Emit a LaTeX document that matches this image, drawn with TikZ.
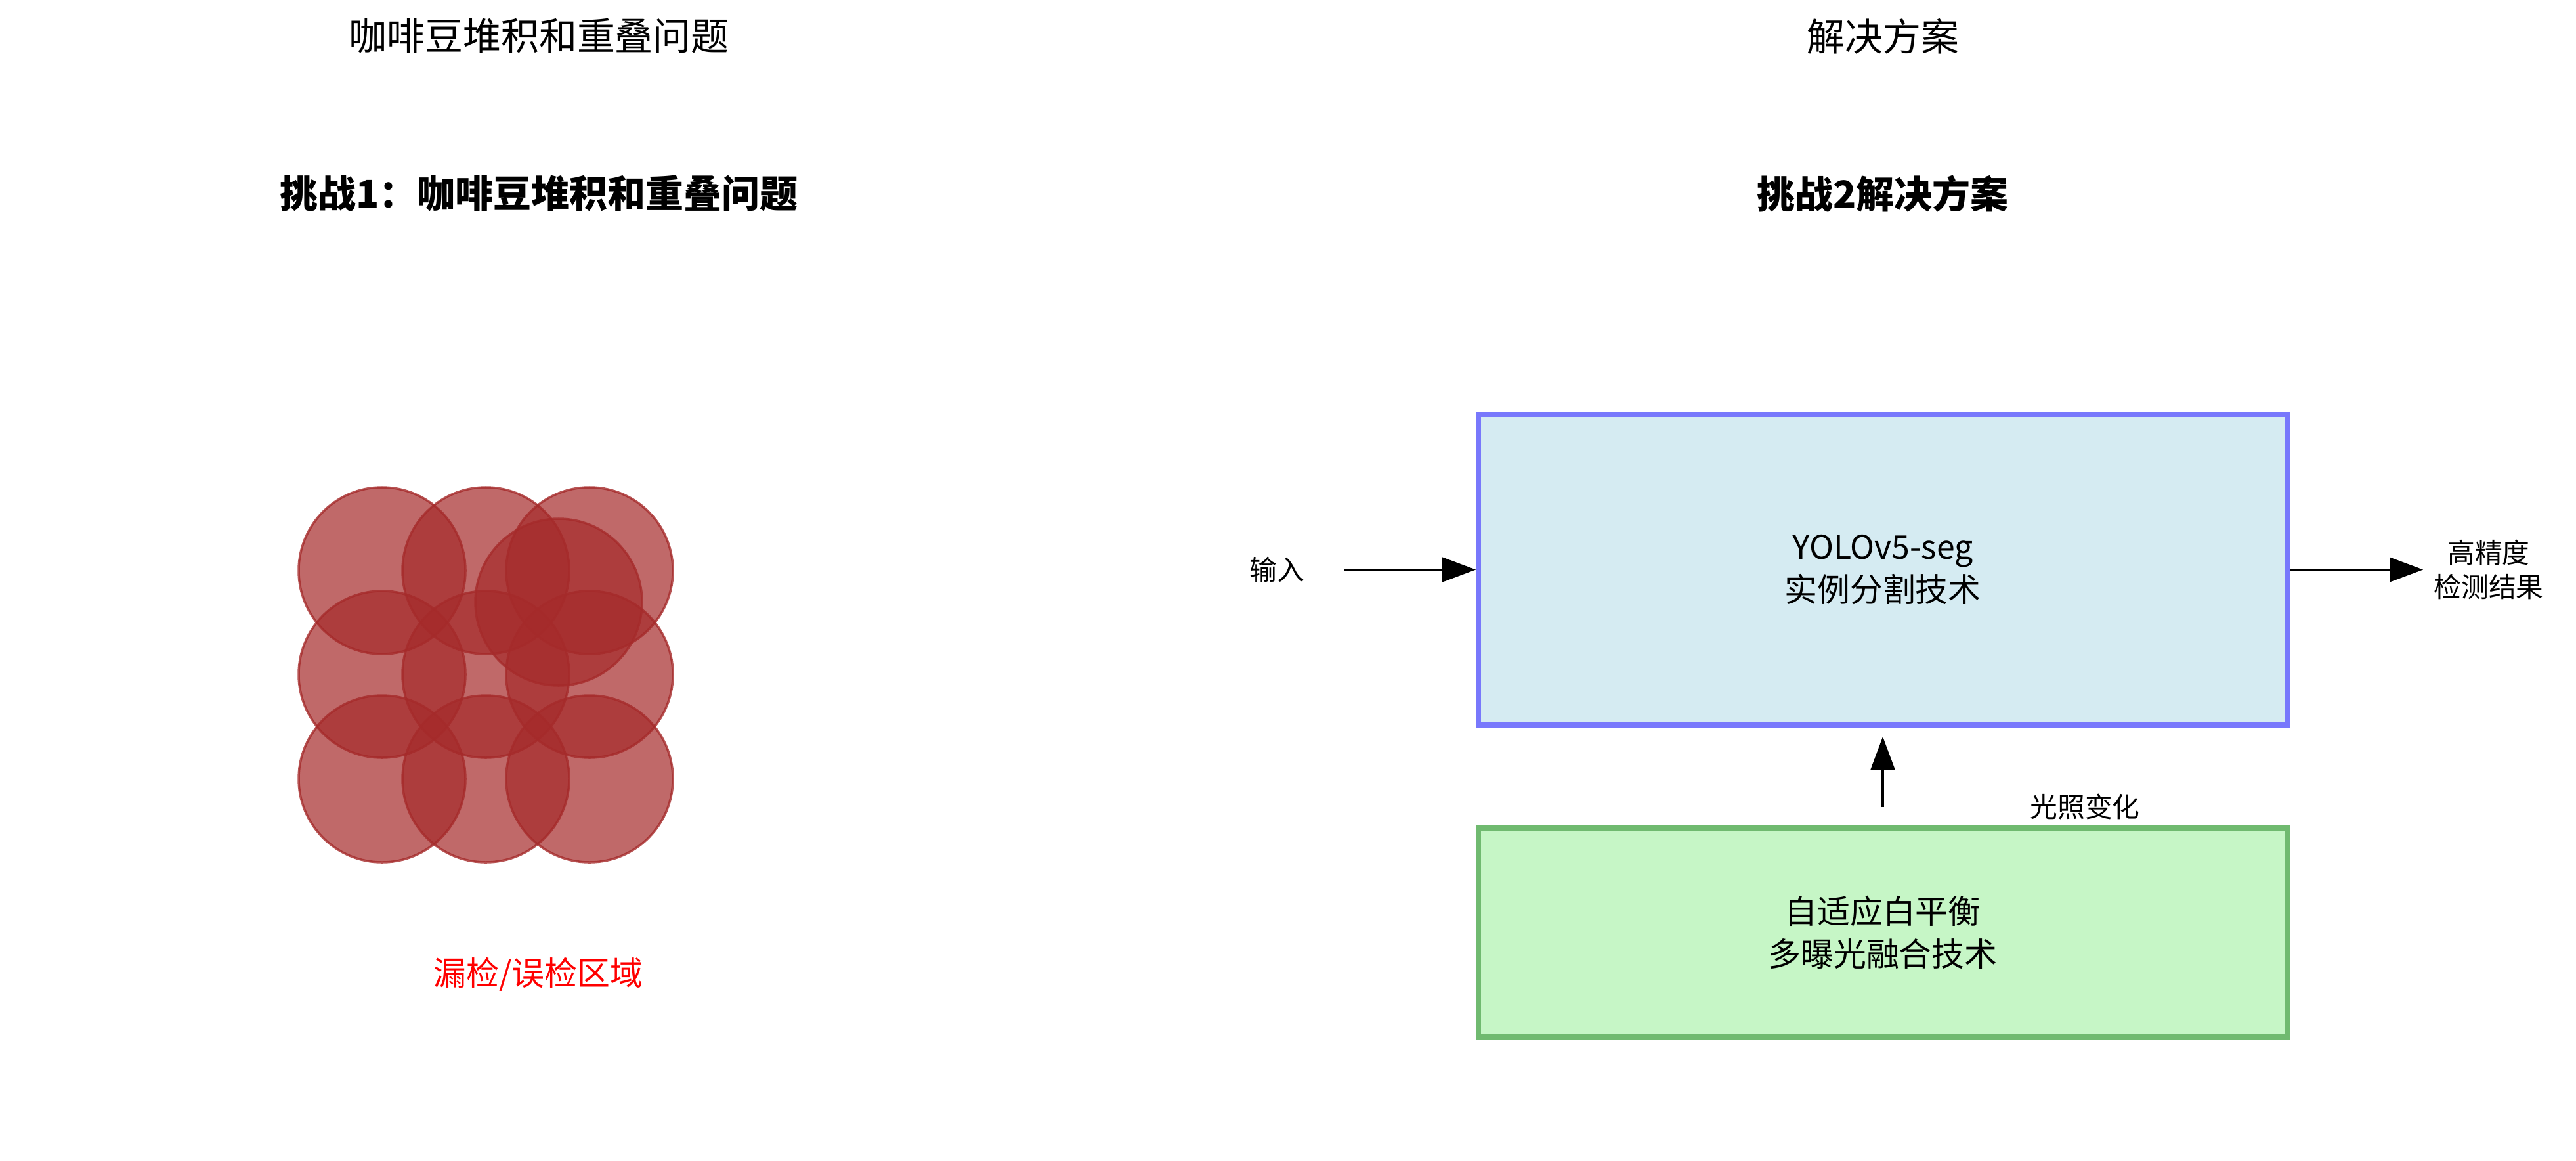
\documentclass[tikz,border=0pt]{standalone}
\usepackage{fontspec}
\setmainfont{Noto Sans CJK SC}
\usetikzlibrary{positioning,arrows.meta}

\definecolor{beanred}{HTML}{A52A2A}
\definecolor{segfill}{HTML}{D5EBF2}
\definecolor{segedge}{HTML}{7878FC}
\definecolor{wbfill}{HTML}{C6F6C6}
\definecolor{wbedge}{HTML}{70BA70}

\begin{document}
\begin{tikzpicture}[>={Triangle[length=0.51cm,width=0.37cm]}, node distance=2.4cm, line width=1.1pt]

% Styles
\tikzstyle{title} = [font=\fontsize{16.5}{20}\selectfont]
\tikzstyle{head} = [font=\fontsize{16.5}{20}\selectfont\bfseries]
\tikzstyle{bean} = [draw=beanred, fill=beanred, fill opacity=0.7, draw opacity=0.8, line width=1pt]
\tikzstyle{seg} = [draw=segedge, fill=segfill, line width=2.2pt, rectangle, minimum width=12.32cm, minimum height=4.73cm, align=center, font=\fontsize{14.2}{18.5}\selectfont]
\tikzstyle{wb} = [draw=wbedge, fill=wbfill, line width=2.2pt, rectangle, minimum width=12.32cm, minimum height=3.18cm, align=center, font=\fontsize{14.2}{18.5}\selectfont]
\tikzstyle{lbl} = [align=center, font=\fontsize{11.9}{15}\selectfont, inner sep=0pt]

\useasboundingbox (0,0) rectangle (39.24,-17.67);

% Left half - stacked beans
\node[title] (t1) at (8.21,-0.55) {咖啡豆堆积和重叠问题};
\node[head, below of=t1] (h1) {挑战1：咖啡豆堆积和重叠问题};

\foreach \x in {5.82,7.40,8.98}
  \foreach \y in {-8.69,-10.27,-11.86}
    \draw[bean] (\x,\y) circle [radius=1.27];
\draw[bean] (8.51,-9.17) circle [radius=1.27];

\node[text=red, font=\fontsize{14.2}{18}\selectfont] (miss) at (8.20,-14.84) {漏检/误检区域};

% Right half - solution
\node[title] (t2) at (28.68,-0.55) {解决方案};
\node[head, below of=t2] (h2) {挑战2解决方案};

\node[seg] (yolo) at (28.68,-8.675) {YOLOv5-seg\\实例分割技术};
\node[wb] (wb) at (28.68,-14.20) {自适应白平衡\\多曝光融合技术};

\node[lbl, minimum width=2.02cm, left of=yolo, node distance=9.23cm] (input) {输入};
\node[lbl, minimum width=1.96cm, right of=yolo, node distance=9.23cm] (output) {高精度\\检测结果};
\node[lbl] (light) at (31.76,-12.29) {光照变化};

% Connections
\draw[->] (input) -- (yolo);
\draw[->] (yolo) -- (output);
\draw[->, shorten <=0.28cm, shorten >=0.14cm] (wb) -- (yolo);

\end{tikzpicture}
\end{document}
